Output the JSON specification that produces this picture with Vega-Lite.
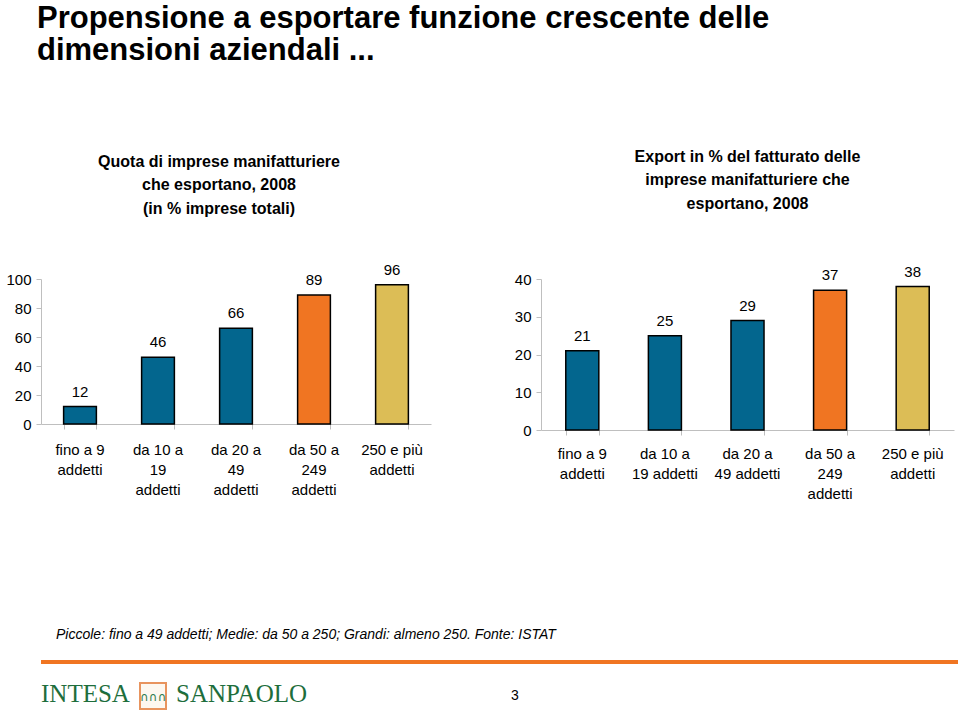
{
  "$schema": "https://vega.github.io/schema/vega-lite/v6.json",
  "background": "white",
  "padding": {"left": 5, "top": 2, "right": 0, "bottom": 0},
  "datasets": {
    "imprese": [
      {"classe": "fino a 9 addetti", "dimensione": "Piccole", "quota": 12, "export": 21},
      {"classe": "da 10 a 19 addetti", "dimensione": "Piccole", "quota": 46, "export": 25},
      {"classe": "da 20 a 49 addetti", "dimensione": "Piccole", "quota": 66, "export": 29},
      {"classe": "da 50 a 249 addetti", "dimensione": "Medie", "quota": 89, "export": 37},
      {"classe": "250 e più addetti", "dimensione": "Grandi", "quota": 96, "export": 38}
    ],
    "vuoto": []
  },
  "title": {
    "text": ["Propensione a esportare funzione crescente delle", "dimensioni aziendali ..."],
    "anchor": "start",
    "font": "Liberation Sans",
    "fontSize": 31,
    "fontWeight": "bold",
    "lineHeight": 32,
    "color": "black",
    "offset": 82,
    "dx": 31
  },
  "config": {
    "view": {"stroke": null},
    "font": "Liberation Sans",
    "axis": {
      "domainColor": "#BFBFBF",
      "tickColor": "#BFBFBF",
      "labelColor": "black",
      "labelFontSize": 15,
      "labelFont": "Liberation Sans",
      "tickSize": 5,
      "grid": false
    }
  },
  "vconcat": [
    {
      "hconcat": [
        {
          "width": 390,
          "height": 145,
          "title": {
            "text": ["Quota di imprese manifatturiere", "che esportano, 2008", "(in % imprese totali)"],
            "font": "Liberation Sans",
            "fontSize": 16,
            "fontWeight": "bold",
            "lineHeight": 23.5,
            "anchor": "middle",
            "color": "black",
            "offset": 46,
            "dx": -17
          },
          "data": {"name": "imprese"},
          "encoding": {
            "x": {
              "field": "classe",
              "type": "nominal",
              "sort": null,
              "scale": {"paddingInner": 0.58, "paddingOuter": 0.29}
            },
            "y": {
              "field": "quota",
              "type": "quantitative",
              "scale": {"domain": [0, 100], "nice": false},
              "axis": {"title": null, "values": [0, 20, 40, 60, 80, 100], "labelPadding": 5}
            }
          },
          "layer": [
            {
              "mark": {"type": "bar", "stroke": "black", "strokeWidth": 1.5},
              "encoding": {
                "x": {
                  "field": "classe",
                  "type": "nominal",
                  "sort": null,
                  "axis": {
                    "title": null,
                    "orient": "bottom",
                    "labelAngle": 0,
                    "ticks": false,
                    "labelLineHeight": 20,
                    "labelPadding": 18,
                    "labelExpr": "datum.value == 'fino a 9 addetti' ? ['fino a 9','addetti'] : datum.value == 'da 10 a 19 addetti' ? ['da 10 a','19','addetti'] : datum.value == 'da 20 a 49 addetti' ? ['da 20 a','49','addetti'] : datum.value == 'da 50 a 249 addetti' ? ['da 50 a','249','addetti'] : ['250 e più','addetti']"
                  }
                },
                "color": {
                  "field": "dimensione",
                  "type": "nominal",
                  "scale": {"domain": ["Piccole", "Medie", "Grandi"], "range": ["#03668E", "#F07522", "#DCBD56"]},
                  "legend": null
                }
              }
            },
            {
              "mark": {"type": "text", "baseline": "bottom", "dy": -7, "fontSize": 15, "color": "black"},
              "encoding": {
                "x": {
                  "field": "classe",
                  "type": "nominal",
                  "sort": null,
                  "axis": {"title": null, "orient": "bottom", "labels": false, "domain": false, "tickBand": "extent"}
                },
                "text": {"field": "quota", "type": "quantitative"}
              }
            }
          ],
          "resolve": {"axis": {"x": "independent"}}
        },
        {
          "width": 413,
          "height": 151,
          "title": {
            "text": ["Export in % del fatturato delle", "imprese manifatturiere che", "esportano, 2008"],
            "font": "Liberation Sans",
            "fontSize": 16,
            "fontWeight": "bold",
            "lineHeight": 23.5,
            "anchor": "middle",
            "color": "black",
            "offset": 53
          },
          "data": {"name": "imprese"},
          "encoding": {
            "x": {
              "field": "classe",
              "type": "nominal",
              "sort": null,
              "scale": {"paddingInner": 0.6, "paddingOuter": 0.3}
            },
            "y": {
              "field": "export",
              "type": "quantitative",
              "scale": {"domain": [0, 40], "nice": false},
              "axis": {"title": null, "values": [0, 10, 20, 30, 40], "labelPadding": 5}
            }
          },
          "layer": [
            {
              "mark": {"type": "bar", "stroke": "black", "strokeWidth": 1.5},
              "encoding": {
                "x": {
                  "field": "classe",
                  "type": "nominal",
                  "sort": null,
                  "axis": {
                    "title": null,
                    "orient": "bottom",
                    "labelAngle": 0,
                    "ticks": false,
                    "labelLineHeight": 20,
                    "labelPadding": 16,
                    "labelExpr": "datum.value == 'fino a 9 addetti' ? ['fino a 9','addetti'] : datum.value == 'da 10 a 19 addetti' ? ['da 10 a','19 addetti'] : datum.value == 'da 20 a 49 addetti' ? ['da 20 a','49 addetti'] : datum.value == 'da 50 a 249 addetti' ? ['da 50 a','249','addetti'] : ['250 e più','addetti']"
                  }
                },
                "color": {
                  "field": "dimensione",
                  "type": "nominal",
                  "scale": {"domain": ["Piccole", "Medie", "Grandi"], "range": ["#03668E", "#F07522", "#DCBD56"]},
                  "legend": null
                }
              }
            },
            {
              "mark": {"type": "text", "baseline": "bottom", "dy": -7, "fontSize": 15, "color": "black"},
              "encoding": {
                "x": {
                  "field": "classe",
                  "type": "nominal",
                  "sort": null,
                  "axis": {"title": null, "orient": "bottom", "labels": false, "domain": false, "tickBand": "extent"}
                },
                "text": {"field": "export", "type": "quantitative"}
              }
            }
          ],
          "resolve": {"axis": {"x": "independent"}}
        }
      ],
      "spacing": 83
    },
    {
      "vconcat": [
        {
          "width": 917,
          "height": 4,
          "data": {"name": "vuoto"},
          "mark": "point",
          "encoding": {},
          "view": {"fill": "#F07522", "stroke": null},
          "title": {
            "text": "Piccole: fino a 49 addetti; Medie: da 50 a 250; Grandi: almeno 250. Fonte: ISTAT",
            "font": "Liberation Sans",
            "fontStyle": "italic",
            "fontWeight": "normal",
            "fontSize": 14,
            "color": "black",
            "anchor": "start",
            "dx": 15,
            "offset": 18
          }
        },
        {
          "hconcat": [
            {
              "hconcat": [
                {
                  "width": 1,
                  "height": 28,
                  "data": {"name": "vuoto"},
                  "mark": "point",
                  "encoding": {},
                  "title": {"text": "INTESA", "font": "Liberation Serif", "fontSize": 25, "fontWeight": "normal", "color": "#1E6E3C", "anchor": "start", "offset": -24}
                },
                {
                  "width": 26,
                  "height": 26,
                  "data": {"name": "vuoto"},
                  "mark": "point",
                  "encoding": {},
                  "view": {"stroke": "#E8945E", "strokeWidth": 2, "fill": "#FDF8F0"},
                  "title": {"text": "∩∩∩", "font": "DejaVu Sans", "fontSize": 12, "fontWeight": "normal", "color": "#2E7D4F", "anchor": "middle", "offset": -21}
                },
                {
                  "width": 1,
                  "height": 28,
                  "data": {"name": "vuoto"},
                  "mark": "point",
                  "encoding": {},
                  "title": {"text": "SANPAOLO", "font": "Liberation Serif", "fontSize": 25, "fontWeight": "normal", "color": "#1E6E3C", "anchor": "start", "offset": -24}
                }
              ],
              "spacing": 8
            },
            {
              "width": 1,
              "height": 28,
              "data": {"name": "vuoto"},
              "mark": "point",
              "encoding": {},
              "title": {"text": "3", "font": "Liberation Sans", "fontSize": 14, "fontWeight": "normal", "color": "black", "anchor": "start", "offset": -20}
            }
          ],
          "spacing": 203
        }
      ],
      "spacing": 18
    }
  ],
  "spacing": 127
}
